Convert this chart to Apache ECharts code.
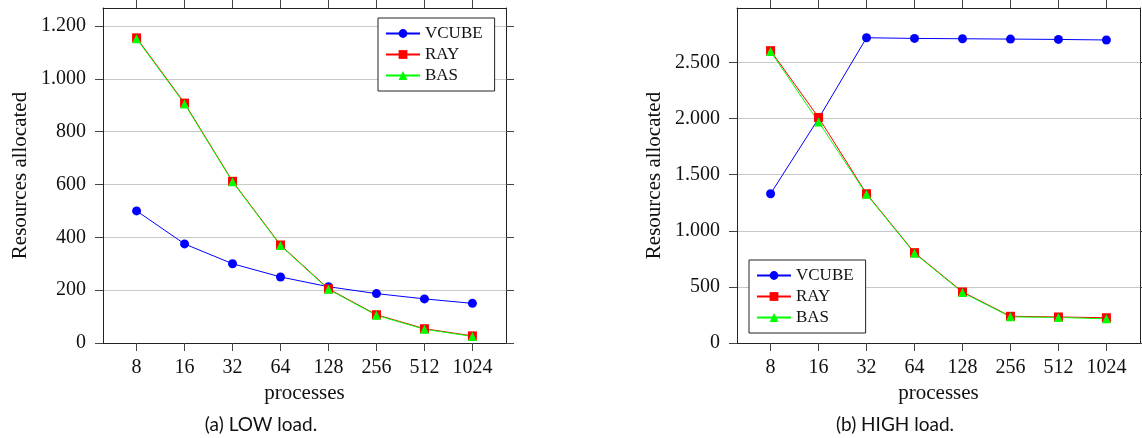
<!DOCTYPE html>
<html>
<head>
<meta charset="utf-8">
<script src="https://cdn.jsdelivr.net/npm/echarts@6/dist/echarts.min.js"></script>
<style>
  html, body { margin: 0; padding: 0; background: #fff; }
  #chart { width: 1142px; height: 438px; }
</style>
</head>
<body>
<div id="chart"></div>
<script>
const categories = [8, 16, 32, 64, 128, 256, 512, 1024];
const lowVcube = [500, 375, 300, 250, 213, 187, 167, 150];
const lowRay   = [1155, 908, 612, 371, 205, 107, 54, 27];
const lowBas   = [1152, 905, 610, 369, 203, 105, 52, 25];
const highVcube = [1330, 2000, 2720, 2714, 2711, 2708, 2705, 2700];
const highRay   = [2605, 2010, 1330, 805, 455, 238, 232, 225];
const highBas   = [2597, 1970, 1325, 800, 450, 233, 228, 215];
const lowTicks  = [0, 200, 400, 600, 800, 1000, 1200];
const highTicks = [0, 500, 1000, 1500, 2000, 2500];
const seriesNames = ['VCUBE', 'RAY', 'BAS'];
const yTitle = 'Resources allocated';
const xTitle = 'processes';
const captions = ['(a) LOW load.', '(b) HIGH load.'];

const serif = '"Liberation Serif", "Times New Roman", serif';
const xPos = categories.map(c => Math.log2(c));
const fmtNum = v => String(v).replace(/\B(?=(\d{3})+(?!\d))/g, '.');

const FRAME = '#222';
const TICK = '#444';
const GRID = '#c8c8c8';

function xAxes(gridIndex) {
  const base = {
    gridIndex, type: 'value', min: 2.3, max: 10.7,
    axisLine: { show: true, onZero: false, lineStyle: { color: FRAME, width: 1 } },
    axisTick: { show: true, inside: false, length: 8, customValues: xPos, lineStyle: { color: TICK } },
    splitLine: { show: false }
  };
  return [
    Object.assign({}, base, {
      position: 'bottom',
      name: xTitle, nameLocation: 'middle', nameGap: 39,
      nameTextStyle: { fontFamily: serif, fontSize: 21, color: '#111' },
      axisLabel: { show: true, customValues: xPos, margin: 15, fontFamily: serif, fontSize: 20, color: '#111',
        formatter: v => String(Math.round(Math.pow(2, v))) }
    }),
    Object.assign({}, base, { position: 'top', axisLabel: { show: false } })
  ];
}

function yAxes(gridIndex, max, interval, ticks) {
  const base = {
    gridIndex, type: 'value', min: 0, max, interval,
    axisLine: { show: true, lineStyle: { color: FRAME, width: 1 } },
    axisTick: { show: true, inside: false, length: 8, customValues: ticks, lineStyle: { color: TICK } },
  };
  return [
    Object.assign({}, base, {
      position: 'left',
      name: yTitle, nameLocation: 'middle', nameGap: 72, nameRotate: 90,
      nameTextStyle: { fontFamily: serif, fontSize: 21, color: '#111' },
      axisLabel: { show: true, customValues: ticks, margin: 17, fontFamily: serif, fontSize: 20, color: '#111',
        formatter: v => fmtNum(v) },
      splitLine: { show: true, lineStyle: { color: GRID, width: 1 } }
    }),
    Object.assign({}, base, { position: 'right', axisLabel: { show: false }, splitLine: { show: false } })
  ];
}

const styles = {
  VCUBE: { symbol: 'circle', symbolSize: 9, color: '#0000ff' },
  RAY:   { symbol: 'rect', symbolSize: 9, color: '#ff0000' },
  BAS:   { symbol: 'triangle', symbolSize: 9, color: '#00ff00' }
};

function mkSeries(name, values, xi, yi) {
  const s = styles[name];
  return {
    type: 'line', name, xAxisIndex: xi, yAxisIndex: yi,
    data: values.map((v, i) => [xPos[i], v]),
    symbol: s.symbol, symbolSize: s.symbolSize, showSymbol: true,
    lineStyle: { color: s.color, width: 1 },
    itemStyle: { color: s.color },
    emphasis: { disabled: true }
  };
}

function mkLegend(left, top) {
  return {
    left, top, orient: 'vertical',
    data: seriesNames,
    backgroundColor: '#fff',
    borderColor: FRAME, borderWidth: 1,
    padding: [7, 12, 7, 7],
    itemWidth: 34, itemHeight: 11, itemGap: 4,
    textStyle: { fontFamily: serif, fontSize: 17, color: '#111' },
    selectedMode: false
  };
}

const capFont = 'Lato, "Noto Sans", sans-serif';
const chart = echarts.init(document.getElementById('chart'), null, { renderer: 'canvas' });
chart.setOption({
  animation: false,
  backgroundColor: '#fff',
  grid: [
    { left: 103, top: 8, width: 403, height: 335 },
    { left: 737, top: 8, width: 403, height: 335 }
  ],
  xAxis: [].concat(xAxes(0), xAxes(1)),
  yAxis: [].concat(yAxes(0, 1268, 200, lowTicks), yAxes(1, 2985, 500, highTicks)),
  legend: [mkLegend(378, 18), mkLegend(749, 260)],
  series: [
    mkSeries('VCUBE', lowVcube, 0, 0),
    mkSeries('RAY', lowRay, 0, 0),
    mkSeries('BAS', lowBas, 0, 0),
    mkSeries('VCUBE', highVcube, 2, 2),
    mkSeries('RAY', highRay, 2, 2),
    mkSeries('BAS', highBas, 2, 2)
  ],
  graphic: [
    { type: 'text', x: 261, y: 425, style: { text: captions[0], font: '19px ' + capFont, fill: '#111', align: 'center', verticalAlign: 'middle' } },
    { type: 'text', x: 895, y: 425, style: { text: captions[1], font: '19px ' + capFont, fill: '#111', align: 'center', verticalAlign: 'middle' } }
  ]
});
</script>
</body>
</html>
